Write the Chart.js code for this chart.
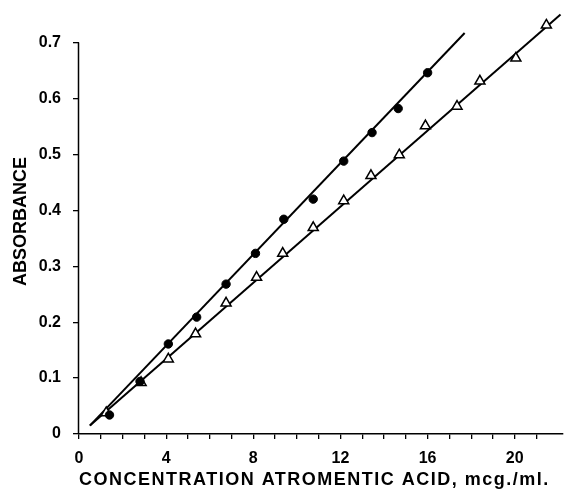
<!DOCTYPE html>
<html>
<head>
<meta charset="utf-8">
<script src="https://cdn.jsdelivr.net/npm/chart.js@4/dist/chart.umd.min.js"></script>
<style>
  html, body { margin: 0; padding: 0; background: #ffffff; }
  canvas { display: block; }
</style>
</head>
<body>
<canvas id="c" width="570" height="489"></canvas>
<script>
// ---- data ----
const concCircles = [1.4, 2.8, 4.1, 5.4, 6.75, 8.1, 9.4, 10.75, 12.15, 13.45, 14.65, 16.0];
const absCircles  = [0.034, 0.094, 0.161, 0.209, 0.268, 0.323, 0.384, 0.420, 0.488, 0.539, 0.582, 0.646];

const concTriangles = [1.25, 2.85, 4.1, 5.35, 6.75, 8.15, 9.35, 10.75, 12.15, 13.4, 14.7, 15.9, 17.35, 18.4, 20.05, 21.45];
const absTriangles  = [0.038, 0.092, 0.134, 0.179, 0.234, 0.280, 0.323, 0.369, 0.417, 0.462, 0.499, 0.551, 0.586, 0.631, 0.672, 0.731];

// drawn fit lines (end points)
const fitCirclesX = [0.5, 17.7];
const fitCirclesY = [0.015, 0.717];
const fitTrianglesX = [0.5, 22.1];
const fitTrianglesY = [0.015, 0.750];

const xLabeledTicks = [0, 4, 8, 12, 16, 20];
const yTickValues = [0, 0.1, 0.2, 0.3, 0.4, 0.5, 0.6, 0.7];

const xTitle = 'CONCENTRATION ATROMENTIC ACID, mcg./ml.';
const yTitle = 'ABSORBANCE';

const toPts = (xs, ys) => xs.map((x, i) => ({ x: x, y: ys[i] }));

const yAxisLine = {
  id: 'yAxisLine',
  beforeDatasetsDraw(chart) {
    const { ctx, scales: { x, y } } = chart;
    const px = x.getPixelForValue(0) - 0.5;
    ctx.save();
    ctx.strokeStyle = '#000';
    ctx.lineWidth = 1.5;
    ctx.beginPath();
    ctx.moveTo(px, y.getPixelForValue(0));
    ctx.lineTo(px, y.getPixelForValue(yTickValues[yTickValues.length - 1]));
    ctx.stroke();
    ctx.restore();
  }
};

const spacedTitle = {
  id: 'spacedTitle',
  afterLayout(chart) {
    const s = chart.scales.x;
    if (!s._spaced) {
      const orig = s.drawTitle;
      s.drawTitle = function () {
        const ctx = this.ctx;
        ctx.save();
        ctx.letterSpacing = '1.5px';
        orig.call(this);
        ctx.restore();
      };
      s._spaced = true;
    }
  }
};

new Chart(document.getElementById('c'), {
  type: 'scatter',
  data: {
    datasets: [
      {
        label: 'circles',
        data: toPts(concCircles, absCircles),
        pointStyle: 'circle',
        pointRadius: 4.2,
        pointBackgroundColor: '#000',
        pointBorderColor: '#000',
        pointBorderWidth: 1,
        showLine: false,
        order: 0
      },
      {
        label: 'triangles',
        data: toPts(concTriangles, absTriangles),
        pointStyle: 'triangle',
        pointRadius: 5.8,
        pointBackgroundColor: '#fff',
        pointBorderColor: '#000',
        pointBorderWidth: 1.5,
        showLine: false,
        order: 0
      },
      {
        label: 'fit circles',
        data: toPts(fitCirclesX, fitCirclesY),
        showLine: true,
        borderColor: '#000',
        borderWidth: 2,
        pointRadius: 0,
        fill: false,
        order: 1
      },
      {
        label: 'fit triangles',
        data: toPts(fitTrianglesX, fitTrianglesY),
        showLine: true,
        borderColor: '#000',
        borderWidth: 2,
        pointRadius: 0,
        fill: false,
        order: 1
      }
    ]
  },
  options: {
    responsive: false,
    animation: false,
    devicePixelRatio: 1,
    layout: { padding: { top: 9, right: 3, left: 0, bottom: 0 } },
    plugins: {
      legend: { display: false },
      tooltip: { enabled: false }
    },
    elements: { line: { tension: 0 } },
    scales: {
      x: {
        type: 'linear',
        min: 0,
        max: 22.2,
        afterFit(scale) {
          scale.height = 55;
          scale.paddingLeft = 0; scale.paddingRight = 0;
        },
        afterBuildTicks(scale) {
          scale.ticks = scale.ticks.filter(t => Math.abs(t.value - Math.round(t.value)) < 1e-6);
        },
        ticks: {
          stepSize: 1,
          autoSkip: false,
          maxRotation: 0,
          color: '#000',
          padding: 10,
          font: { family: '"Liberation Sans", Arial, sans-serif', size: 16, weight: 'bold' },
          callback: (v) => xLabeledTicks.includes(Math.round(v)) && Math.abs(v - Math.round(v)) < 1e-6 ? String(Math.round(v)) : ''
        },
        grid: {
          drawOnChartArea: false,
          drawTicks: true,
          tickLength: 5,
          color: '#000',
          lineWidth: 1.3
        },
        border: { display: true, color: '#000', width: 1.5 },
        title: {
          display: true,
          text: xTitle,
          color: '#000',
          align: 'start',
          padding: { top: 0, bottom: -2 },
          font: { family: '"Liberation Sans", Arial, sans-serif', size: 18, weight: 'bold' }
        }
      },
      y: {
        type: 'linear',
        min: 0,
        max: 0.76,
        afterFit(scale) {
          scale.width = 79;
          scale.paddingTop = 0; scale.paddingBottom = 0;
        },
        afterBuildTicks(scale) {
          scale.ticks = yTickValues.map(v => ({ value: v }));
        },
        ticks: {
          color: '#000',
          padding: 12,
          font: { family: '"Liberation Sans", Arial, sans-serif', size: 16, weight: 'bold' },
          callback: (v) => v === 0 ? '0' : Number(v).toFixed(1)
        },
        grid: {
          drawOnChartArea: false,
          drawTicks: true,
          tickLength: 6,
          color: '#000',
          lineWidth: 1.3
        },
        border: { display: false },
        title: {
          display: true,
          text: yTitle,
          color: '#000',
          padding: { top: 10, bottom: 0 },
          font: { family: '"Liberation Sans", Arial, sans-serif', size: 18, weight: 'bold' }
        }
      }
    }
  },
  plugins: [yAxisLine, spacedTitle]
});
</script>
</body>
</html>
